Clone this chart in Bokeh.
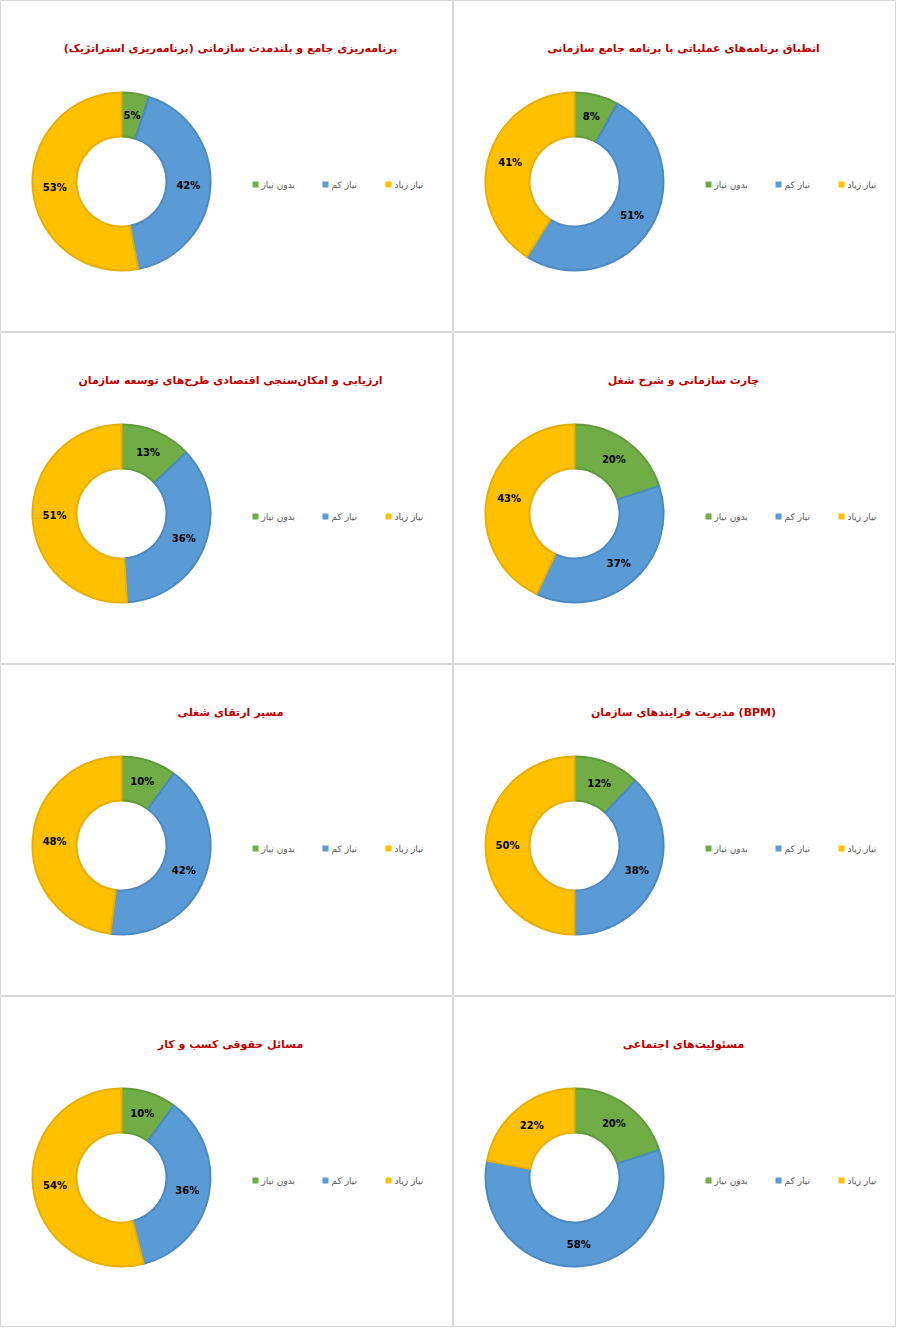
import math
from bokeh.plotting import figure
from bokeh.layouts import gridplot
from bokeh.models import ColumnDataSource
from bokeh.core.properties import value
from bokeh.embed import file_html
from bokeh.resources import INLINE

# ---- data (row by row: left panel, right panel) ----
titles = [
    "برنامه‌ریزی جامع و بلندمدت سازمانی (برنامه‌ریزی استراتژیک)",
    "انطباق برنامه‌های عملیاتی با برنامه جامع سازمانی",
    "ارزیابی و امکان‌سنجی اقتصادی طرح‌های توسعه سازمان",
    "چارت سازمانی و شرح شغل",
    "مسیر ارتقای شغلی",
    "مدیریت فرایندهای سازمان (BPM)",
    "مسائل حقوقی کسب و کار",
    "مسئولیت‌های اجتماعی",
]
categories = ["بدون نیاز", "نیاز کم", "نیاز زیاد"]
no_need = [5, 8, 13, 20, 10, 12, 10, 20]
low_need = [42, 51, 36, 37, 42, 38, 36, 58]
high_need = [53, 41, 51, 43, 48, 50, 54, 22]

fill_colors = ["#70AD47", "#5B9BD5", "#FFC000"]
edge_colors = ["#5F9A3B", "#4C8AC4", "#E8AE00"]

COL_W = [453, 443]
ROW_H = [332, 332, 332, 331]
R_OUT, R_IN = 89, 45
FONT = value("DejaVu Sans")


def make_panel(title, vals, W, H):
    p = figure(width=W, height=H, x_range=(0, W), y_range=(0, H),
               output_backend="svg", toolbar_location=None, min_border=0,
               background_fill_color="white", border_fill_color="white")
    p.axis.visible = False
    p.grid.visible = False
    p.outline_line_color = "#D9D9D9"
    p.outline_line_width = 1

    CX, CY = 121, H - 181
    total = float(sum(vals))
    starts, ends, lx, ly, labels = [], [], [], [], []
    cum = 0.0
    for v in vals:
        a0 = math.pi / 2 - 2 * math.pi * cum / total
        cum += v
        a1 = math.pi / 2 - 2 * math.pi * cum / total
        starts.append(a0)
        ends.append(a1)
        mid = (a0 + a1) / 2
        rm = (R_IN + R_OUT) / 2
        lx.append(CX + rm * math.cos(mid))
        ly.append(CY + rm * math.sin(mid))
        labels.append(f"{v}%")

    src = ColumnDataSource(dict(start=starts, end=ends, fill=fill_colors,
                                edge=edge_colors, lx=lx, ly=ly, label=labels))
    p.annular_wedge(x=CX, y=CY, inner_radius=R_IN, outer_radius=R_OUT,
                    start_angle="start", end_angle="end", direction="clock",
                    fill_color="fill", line_color="edge", line_width=2, source=src)
    p.text(x="lx", y="ly", text="label", source=src, text_align="center",
           text_baseline="middle", text_font=FONT, text_font_style="bold",
           text_font_size="10px", text_color="#000000")

    # title
    p.text(x=[230], y=[H - 48], text=[title], text_align="center",
           text_baseline="middle", text_font=FONT, text_font_style="bold",
           text_font_size="11px", text_color="#C00000")

    # legend
    lg_x = [255, 325, 388]
    lg_y = H - 184
    p.rect(x=lg_x, y=[lg_y] * 3, width=6, height=6, width_units="screen",
           height_units="screen", fill_color=fill_colors, line_color=None)
    p.text(x=[x + 6 for x in lg_x], y=[lg_y] * 3, text=categories,
           text_align="left", text_baseline="middle", text_font=FONT,
           text_font_size="9px", text_color="#595959")
    return p


rows = []
for r in range(4):
    row = []
    for c in range(2):
        i = 2 * r + c
        row.append(make_panel(titles[i], [no_need[i], low_need[i], high_need[i]],
                              COL_W[c], ROW_H[r]))
    rows.append(row)

layout = gridplot(rows, toolbar_location=None)

open("out.html", "w").write(file_html(layout, INLINE))
